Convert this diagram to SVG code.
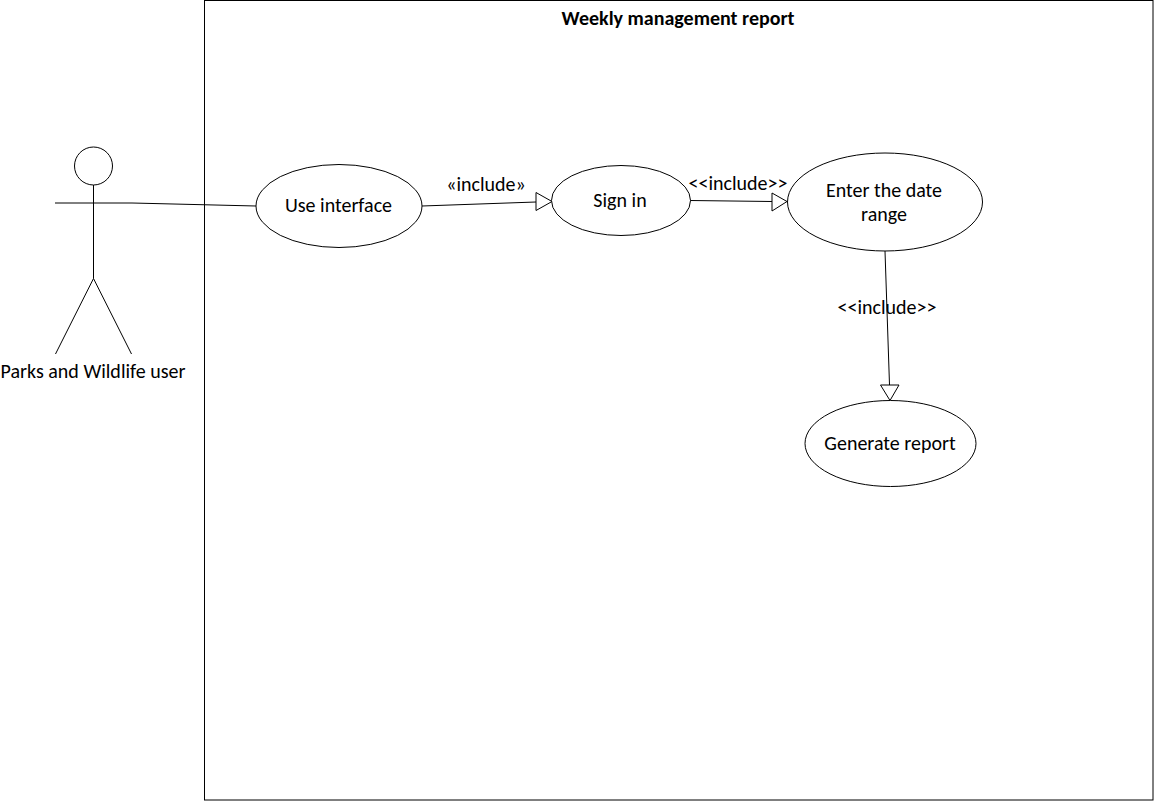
<svg xmlns="http://www.w3.org/2000/svg" width="1154" height="801" viewBox="0 0 1154 801">
<style>
.s{fill:none;stroke:#000;stroke-width:1}
.n{fill:#fff;stroke:#000;stroke-width:1}
text{font-family:"Carlito","Open Sans","Liberation Sans",sans-serif;font-size:20px;fill:#000;text-anchor:middle}
</style>
<rect width="1154" height="801" fill="#fff"/>
<g id="system"><rect class="s" x="204.500" y="0.500" width="948.500" height="799.500"/>
<text x="678" y="25" style="font-weight:bold">Weekly management report</text></g>
<g id="connectors">
<path class="s" d="M132 203L256 206"/>
<path class="s" d="M422 206L536 202"/><path class="n" d="M536 192.500L552 201.500L536 210.500Z"/>
<path class="s" d="M690 200.500L772 201.500"/><path class="n" d="M772 193L787 201.500L772 211Z"/>
<path class="s" d="M885 251L889.500 385"/><path class="n" d="M880.500 385L899 385L890 400.500Z"/>
</g>
<g id="actor"><circle class="s" cx="93.500" cy="166" r="19"/>
<path class="s" d="M93.500 185V278.500M55 203H132M93.500 278.500L55.500 354M93.500 278.500L131.500 354"/>
<text x="93" y="378">Parks and Wildlife user</text></g>
<g id="use-interface"><ellipse class="n" cx="339" cy="206" rx="83" ry="41.500"/><text x="338.500" y="212">Use interface</text></g>
<g id="sign-in"><ellipse class="n" cx="621" cy="200.500" rx="69.500" ry="35"/><text x="620" y="207">Sign in</text></g>
<g id="date"><ellipse class="n" cx="885" cy="202" rx="97.500" ry="49"/><text x="884" y="197">Enter the date</text><text x="884" y="221">range</text></g>
<g id="report"><ellipse class="n" cx="890.500" cy="443.500" rx="85.500" ry="43"/><text x="890" y="450">Generate report</text></g>
<g id="labels"><text x="486" y="191">«include»</text><text x="738" y="190">&lt;&lt;include&gt;&gt;</text><text x="887" y="314">&lt;&lt;include&gt;&gt;</text></g>
</svg>
